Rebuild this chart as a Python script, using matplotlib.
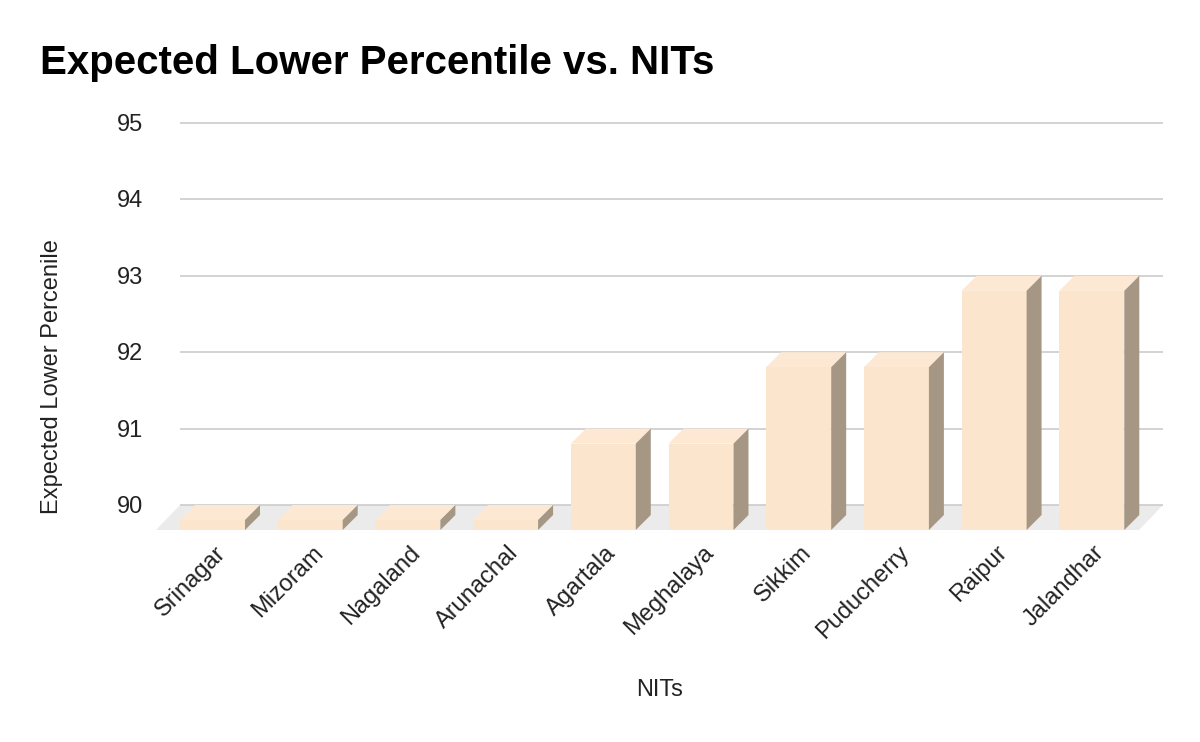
import matplotlib
matplotlib.use("Agg")
import matplotlib.pyplot as plt
from matplotlib.patches import Polygon
import numpy as np

categories = ["Srinagar", "Mizoram", "Nagaland", "Arunachal", "Agartala",
              "Meghalaya", "Sikkim", "Puducherry", "Raipur", "Jalandhar"]
values = [90, 90, 90, 90, 91, 91, 92, 92, 93, 93]
yticks = [90, 91, 92, 93, 94, 95]

W, H = 1200, 742
fig = plt.figure(figsize=(W / 100, H / 100), dpi=100)
plt.rcParams['font.family'] = ['Liberation Sans', 'DejaVu Sans']

# axes box in pixels (from top-left)
ax_left, ax_right = 180, 1163
ax_top, ax_bottom = 123, 530
ax = fig.add_axes([ax_left / W, 1 - ax_bottom / H, (ax_right - ax_left) / W, (ax_bottom - ax_top) / H])

px_per_unit_y = (505 - 123) / 5.0
ymin = 90 - (ax_bottom - 505) / px_per_unit_y
ax.set_ylim(ymin, 95)
px_per_cat = 97.7
xlo = -47.5 / px_per_cat
xhi = xlo + (ax_right - ax_left) / px_per_cat
ax.set_xlim(xlo, xhi)
ax.axis('off')

# depth offsets
bdx = -15 / px_per_cat
bdy = -15 / px_per_unit_y
fdx = -24 / px_per_cat
width = 0.665
fs = 17

# floor
floor = Polygon([(xlo, 90), (xhi, 90), (xhi + fdx, ymin), (xlo + fdx, ymin)],
                closed=True, facecolor='#ebebeb', edgecolor='none', clip_on=False, zorder=1)
ax.add_patch(floor)

# gridlines
for t in yticks:
    ax.plot([xlo, xhi], [t, t], color='#cccccc', lw=1.2, zorder=2, clip_on=False, solid_capstyle='butt')
    ax.annotate(str(t), xy=(xlo, t), xytext=(-37 * 0.72, -1.5), textcoords='offset points',
                ha='right', va='center', fontsize=fs, color='#222222')

front_c = '#fce5cd'
top_c = '#fde8d4'
side_c = '#a69785'
x = np.arange(len(categories))
for xi, v in zip(x, values):
    bl = xi - width / 2  # back-left
    br = xi + width / 2
    fl, fr = bl + bdx, br + bdx
    ftop = v + bdy
    front = Polygon([(fl, ymin), (fr, ymin), (fr, ftop), (fl, ftop)], closed=True,
                    facecolor=front_c, edgecolor='none', zorder=4, clip_on=False)
    top = Polygon([(fl, ftop), (fr, ftop), (br, v), (bl, v)], closed=True,
                  facecolor=top_c, edgecolor='none', zorder=4, clip_on=False)
    side = Polygon([(fr, ymin), (fr, ftop), (br, v), (br, ymin - bdy)], closed=True,
                   facecolor=side_c, edgecolor='none', zorder=4, clip_on=False)
    for p in (front, top, side):
        ax.add_patch(p)
    ax.annotate(categories[xi], xy=(xi + bdx / 2 + 0.02, ymin), xytext=(0, -14),
                textcoords='offset points', ha='right', va='center', rotation=45,
                rotation_mode='anchor', fontsize=fs, color='#222222')

fig.text(40 / W, 1 - 63 / H, "Expected Lower Percentile vs. NITs", fontsize=29,
         fontweight='bold', ha='left', va='center', color='#000000')
fig.text(660 / W, 1 - 690 / H, "NITs", fontsize=fs, ha='center', va='center', color='#222222')
fig.text(52 / W, 1 - 377 / H, "Expected Lower Percenile", fontsize=fs, rotation=90,
         ha='center', va='center', color='#222222')

fig.savefig("out.png", dpi=100)
